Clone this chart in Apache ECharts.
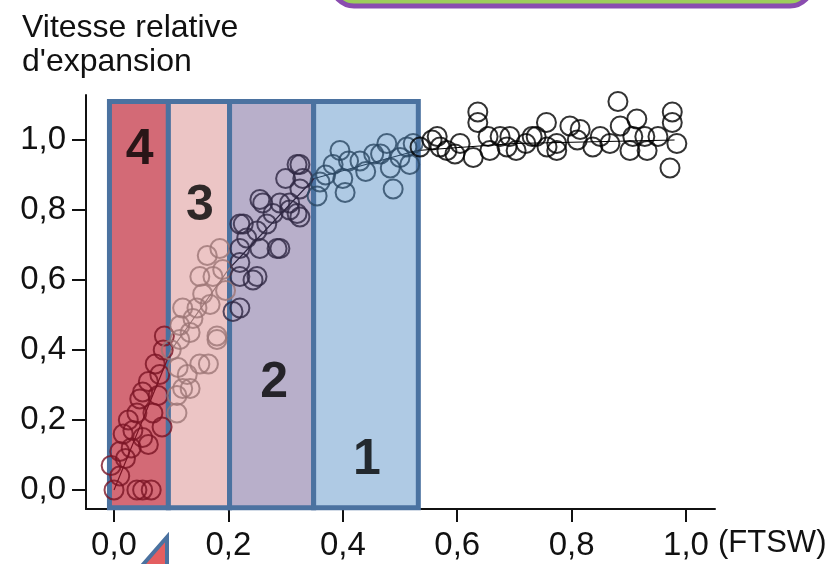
<!DOCTYPE html>
<html>
<head>
<meta charset="utf-8">
<script src="https://cdn.jsdelivr.net/npm/echarts@6/dist/echarts.min.js"></script>
<style>
  html, body { margin: 0; padding: 0; background: #fff; }
  #chart { width: 836px; height: 564px; }
</style>
</head>
<body>
<div id="chart"></div>
<script>
// ---- data ----
const yTitle = "Vitesse relative\nd'expansion";
const xUnit = "(FTSW)";
const xTickValues = [0, 0.2, 0.4, 0.6, 0.8, 1.0];
const yTickValues = [0, 0.2, 0.4, 0.6, 0.8, 1.0];

// FTSW (x) and relative expansion rate (y) of each measured point
const ftsw = [
  0.00, 0.04, 0.05, 0.065, 0.01, 0.02, 0.01, 0.016, 0.033, 0.05, 0.068, 0.045, 0.05, 0.072, 0.086, 0.077, 0.084, 0.03, 0.06, 0.025, 0.06, 0.08, 0.088, -0.005, 0.04,
  0.115, 0.133, 0.18, 0.112, 0.15, 0.165, 0.12, 0.133, 0.11, 0.11, 0.185, 0.15, 0.173, 0.12, 0.145, 0.168, 0.115, 0.138, 0.18, 0.128, 0.163, 0.19, 0.10, 0.195, 0.155,
  0.208, 0.22, 0.22, 0.243, 0.22, 0.255, 0.29, 0.22, 0.25, 0.278, 0.32, 0.26, 0.307, 0.325, 0.30, 0.325, 0.255, 0.29, 0.325, 0.226, 0.267, 0.307, 0.232, 0.285, 0.22, 0.25, 0.33, 0.32,
  0.395, 0.383, 0.41, 0.40, 0.36, 0.404, 0.44, 0.466, 0.477, 0.483, 0.512, 0.517, 0.523, 0.488, 0.355, 0.454, 0.37, 0.43, 0.50,
  0.636, 0.636, 0.556, 0.57, 0.596, 0.605, 0.628, 0.654, 0.675, 0.687, 0.703, 0.72, 0.738, 0.756, 0.774, 0.81, 0.815, 0.85, 0.867, 0.881, 0.885, 0.902, 0.914, 0.928, 0.951, 0.976, 0.976, 0.984, 0.972, 0.774, 0.757, 0.731, 0.657, 0.692, 0.535, 0.565, 0.582, 0.797, 0.837, 0.907, 0.932
];
const expansion = [
  0.00, 0.00, 0.00, 0.00, 0.04, 0.09, 0.11, 0.16, 0.17, 0.15, 0.22, 0.26, 0.28, 0.36, 0.40, 0.27, 0.18, 0.12, 0.13, 0.20, 0.31, 0.33, 0.44, 0.07, 0.22,
  0.43, 0.45, 0.43, 0.35, 0.36, 0.36, 0.29, 0.29, 0.22, 0.27, 0.69, 0.61, 0.61, 0.52, 0.52, 0.53, 0.47, 0.49, 0.44, 0.33, 0.67, 0.63, 0.40, 0.57, 0.56,
  0.51, 0.52, 0.61, 0.60, 0.69, 0.69, 0.69, 0.76, 0.74, 0.79, 0.79, 0.82, 0.82, 0.93, 0.89, 0.86, 0.83, 0.82, 0.78, 0.76, 0.76, 0.80, 0.72, 0.69, 0.65, 0.61, 0.89, 0.93,
  0.97, 0.93, 0.94, 0.89, 0.88, 0.85, 0.91, 0.96, 0.99, 0.92, 0.98, 0.93, 0.99, 0.86, 0.84, 0.96, 0.90, 0.94, 0.95,
  1.08, 1.05, 1.00, 0.98, 0.96, 0.99, 0.95, 1.01, 1.01, 0.98, 0.97, 0.99, 1.01, 1.05, 0.97, 1.00, 1.03, 1.01, 0.99, 1.11, 1.04, 0.97, 1.06, 1.01, 1.01, 1.08, 1.05, 0.99, 0.92, 0.99, 0.98, 1.01, 0.97, 1.01, 0.98, 1.01, 0.97, 1.04, 0.98, 1.01, 0.97
];

// fitted trend through the points
const fitX = [0.0, 0.1, 0.2, 0.35, 0.53, 0.7, 0.98];
const fitY = [0.0, 0.40, 0.63, 0.89, 0.97, 0.99, 1.0];

// phases (4 -> 1) along FTSW
const phaseNames = ['4', '3', '2', '1'];
const phaseEdges = [-0.008, 0.095, 0.202, 0.349, 0.532];
const phaseTop = 1.11;
const phaseBottom = -0.051;
const phaseLabelX = [0.045, 0.15, 0.28, 0.442];
const phaseLabelY = [0.97, 0.81, 0.306, 0.086];

// ---- styles ----
const phaseFill = ['#d36a76', '#ecc5c5', '#b8afca', '#afcae4'];
const phaseDot = ['#7a1424', '#9c7676', '#2e2742', '#2b4763'];
const outsideDot = '#000000';
const fmt = v => v.toFixed(1).replace('.', ',');

function dotColor(x) {
  for (let i = 0; i < phaseNames.length; i++) {
    if (x >= phaseEdges[i] && x < phaseEdges[i + 1]) return phaseDot[i];
  }
  return outsideDot;
}

const scatterData = ftsw.map((x, i) => ({
  value: [x, expansion[i]],
  itemStyle: { borderColor: dotColor(x) }
}));

const areaData = phaseNames.map((n, i) => [
  { xAxis: phaseEdges[i], yAxis: phaseTop, itemStyle: { color: phaseFill[i] } },
  { xAxis: phaseEdges[i + 1], yAxis: phaseBottom }
]);

const pieces = [{ lt: phaseEdges[0], color: outsideDot }];
phaseNames.forEach((n, i) => pieces.push({ gte: phaseEdges[i], lt: phaseEdges[i + 1], color: phaseDot[i] }));
pieces.push({ gte: phaseEdges[phaseEdges.length - 1], color: outsideDot });

const labelFont = { fontFamily: 'Liberation Sans, Arial, sans-serif', fontSize: 33, color: '#111' };

const chart = echarts.init(document.getElementById('chart'), null, { renderer: 'canvas' });
chart.setOption({
  animation: false,
  backgroundColor: '#ffffff',
  title: {
    text: yTitle,
    left: 17, top: 6,
    textStyle: { fontFamily: 'Liberation Sans, Arial, sans-serif', fontSize: 32, fontWeight: 'normal', color: '#111', lineHeight: 34 }
  },
  grid: { left: 86, right: 121, top: 95, bottom: 55, containLabel: false },
  xAxis: {
    type: 'value', min: -0.049, max: 1.0507,
    splitLine: { show: false },
    axisLine: { show: true, onZero: false, lineStyle: { color: '#111', width: 2 } },
    axisTick: { show: true, length: 13, customValues: xTickValues, lineStyle: { color: '#111', width: 2 } },
    axisLabel: { customValues: xTickValues, formatter: fmt, margin: 20, ...labelFont }
  },
  yAxis: {
    type: 'value', min: -0.0543, max: 1.1286,
    splitLine: { show: false },
    axisLine: { show: true, onZero: false, lineStyle: { color: '#111', width: 2 } },
    axisTick: { show: true, length: 14, customValues: yTickValues, lineStyle: { color: '#111', width: 2 } },
    axisLabel: { customValues: yTickValues, formatter: fmt, margin: 20, ...labelFont }
  },
  visualMap: {
    show: false, type: 'piecewise', dimension: 0, seriesIndex: 1, pieces: pieces
  },
  series: [
    {
      type: 'scatter', data: [], z: 1,
      markArea: {
        silent: true,
        itemStyle: { borderColor: '#4b72a0', borderWidth: 5, opacity: 1 },
        data: areaData
      }
    },
    {
      type: 'line', z: 2, symbol: 'none', smooth: false,
      lineStyle: { width: 1.2 },
      data: fitX.map((x, i) => [x, fitY[i]])
    },
    {
      type: 'scatter', z: 3, symbol: 'circle', symbolSize: 19,
      itemStyle: { color: 'rgba(0,0,0,0)', borderWidth: 2 },
      data: scatterData
    },
    {
      type: 'scatter', z: 4, symbolSize: 0,
      data: phaseNames.map((n, i) => ({ name: n, value: [phaseLabelX[i], phaseLabelY[i]] })),
      label: {
        show: true, position: 'inside', formatter: p => p.name,
        fontFamily: 'Liberation Sans, Arial, sans-serif',
        fontWeight: 'bold', fontSize: 50, color: '#000'
      }
    }
  ],
  graphic: [
    {
      type: 'rect', shape: { x: 332, y: -50, width: 480, height: 56, r: 22 },
      style: { fill: '#9dcd5b', stroke: '#8a4caf', lineWidth: 5 }
    },
    {
      type: 'polygon', shape: { points: [[167, 537], [167, 568], [140, 568]] },
      style: { fill: '#e35e60', stroke: '#4b72a0', lineWidth: 4 }
    },
    {
      type: 'text', left: 718, top: 528,
      style: { text: xUnit, font: '31px "Liberation Sans", Arial, sans-serif', fill: '#111' }
    }
  ]
});
</script>
</body>
</html>
